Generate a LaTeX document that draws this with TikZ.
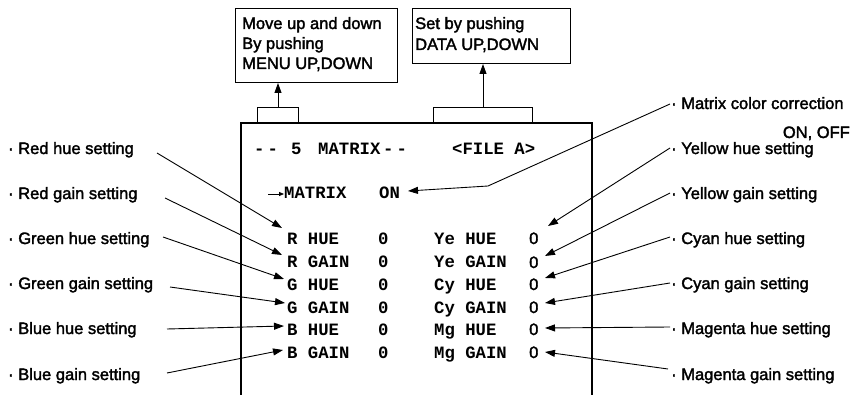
\documentclass[tikz,border=0pt]{standalone}
\usepackage{fontspec}
\setmainfont{Liberation Sans}[FakeBold=2]
\newfontfamily\monofam{Liberation Mono}
\usetikzlibrary{arrows.meta}
\newcommand{\mydash}{-\hspace{3pt}-}
\begin{document}
\begin{tikzpicture}[x=1pt,y=-1pt,
  lbl/.style={font=\fontsize{16.5}{20}\selectfont, anchor=base west, inner sep=0pt},
  lblr/.style={font=\fontsize{16.5}{20}\selectfont, anchor=base east, inner sep=0pt},
  mono/.style={font=\fontsize{17.3}{20}\selectfont\monofam\bfseries, anchor=base west, inner sep=0pt},
  arr/.style={line width=0.9pt, -{Triangle[length=10pt,width=7pt]}},
  smallarr/.style={line width=0.8pt, -{Triangle[length=5pt,width=4pt]}},
  frame/.style={draw, line width=1pt, inner sep=0pt},
  mainline/.style={line width=1.4pt}]
\useasboundingbox (0,0) rectangle (856,395);

% top boxes
\node[frame, minimum width=162pt, minimum height=74pt, anchor=north west] (b1) at (235,8) {};
\node[frame, minimum width=158pt, minimum height=55pt, anchor=north west] (b2) at (412,8) {};
\node[lbl] (b1t1) at (242,29) {Move up and down};
\node[lbl] (b1t2) at (242,49) {By pushing};
\node[lbl] (b1t3) at (242,69) {MENU UP,DOWN};
\node[lbl] (b2t1) at (415,29) {Set by pushing};
\node[lbl] (b2t2) at (415,50) {DATA UP,DOWN};

% main box
\draw[mainline] (241,395) -- (241,123) -- (592,123) -- (592,395);
\node[frame, minimum width=41pt, minimum height=15pt, anchor=south west] (tab1) at (257,123) {};
\node[frame, minimum width=99pt, minimum height=15pt, anchor=south west] (tab2) at (433,123) {};
\draw[arr] (tab1.north) -- (tab1.north |- b1.south);
\draw[arr] (tab2.north) -- (tab2.north |- b2.south);

% screen text
\node[mono] (h1) at (254,155) {\mydash};
\node[mono] (h2) at (291,155) {5};
\node[mono] (h3) at (318,155) {MATRIX};
\node[mono] (h4) at (383,155) {\mydash};
\node[mono] (h5) at (452,155) {<FILE A>};

\node[mono] (mx) at (284,199) {MATRIX};
\node[mono] (on) at (379,199) {ON};
\coordinate (sa) at (268,194);
\draw[smallarr] (sa) -- (mx.west |- sa);

\node[mono] (r1) at (287,244) {R HUE};
\node[mono] (r2) at (287,268) {R GAIN};
\node[mono] (r3) at (287,290) {G HUE};
\node[mono] (r4) at (287,313) {G GAIN};
\node[mono] (r5) at (287,335) {B HUE};
\node[mono] (r6) at (287,358) {B GAIN};
\foreach \y/\n in {244/1,268/2,290/3,313/4,335/5,358/6}
  \node[mono] (z\n) at (378,\y) {0};
\node[mono] (s1) at (434,244) {Ye HUE};
\node[mono] (s2) at (434,268) {Ye GAIN};
\node[mono] (s3) at (434,290) {Cy HUE};
\node[mono] (s4) at (434,313) {Cy GAIN};
\node[mono] (s5) at (434,335) {Mg HUE};
\node[mono] (s6) at (434,358) {Mg GAIN};
\foreach \y/\n in {244/1,268/2,290/3,313/4,335/5,358/6}
  \node[lbl] (v\n) at (529,\y) {0};

% left labels
\node[lbl] (lrh) at (8,154) {· Red hue setting};
\node[lbl] (lrg) at (8,199) {· Red gain setting};
\node[lbl] (lgh) at (8,244) {· Green hue setting};
\node[lbl] (lgg) at (8,289) {· Green gain setting};
\node[lbl] (lbh) at (8,334) {· Blue hue setting};
\node[lbl] (lbg) at (8,380) {· Blue gain setting};

% right labels
\node[lbl] (rmc) at (671,109) {· Matrix color correction};
\node[lblr] (rmc2) at (850,138) {ON, OFF};
\node[lbl] (ryh) at (671,154) {· Yellow hue setting};
\node[lbl] (ryg) at (671,199) {· Yellow gain setting};
\node[lbl] (rch) at (671,244) {· Cyan hue setting};
\node[lbl] (rcg) at (671,289) {· Cyan gain setting};
\node[lbl] (rmh) at (671,334) {· Magenta hue setting};
\node[lbl] (rmg) at (671,380) {· Magenta gain setting};

% left connector ends
\coordinate (a1) at (157,153); \coordinate (t1) at (282,228);
\coordinate (a2) at (165,198); \coordinate (t2) at (282,255);
\coordinate (a3) at (163,237); \coordinate (t3) at (284,279);
\coordinate (a4) at (170,287); \coordinate (t4) at (285,303);
\coordinate (a5) at (167,329); \coordinate (t5) at (284,326);
\coordinate (a6) at (167,373); \coordinate (t6) at (283,350);
\foreach \i in {1,...,6} \draw[arr] (a\i) -- (t\i);

% right connector ends
\coordinate (c0) at (670,104); \coordinate (k0) at (488,186); \coordinate (u0) at (408,191);
\draw[arr] (c0) -- (k0) -- (u0);
\coordinate (c1) at (670,148); \coordinate (u1) at (548,226);
\coordinate (c2) at (670,193); \coordinate (u2) at (545,256);
\coordinate (c3) at (670,237); \coordinate (u3) at (545,278);
\coordinate (c4) at (670,283); \coordinate (u4) at (545,303);
\coordinate (c5) at (670,327); \coordinate (u5) at (545,328);
\coordinate (c6) at (668,369); \coordinate (u6) at (545,352);
\foreach \i in {1,...,6} \draw[arr] (c\i) -- (u\i);
\end{tikzpicture}
\end{document}
